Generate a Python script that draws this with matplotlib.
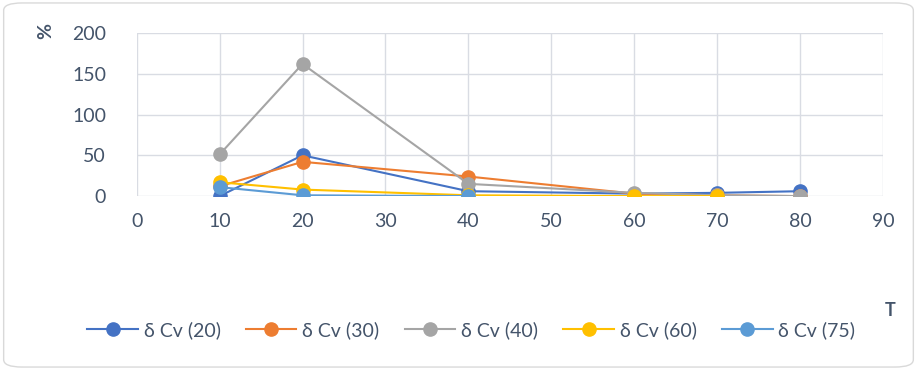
import matplotlib.pyplot as plt
from matplotlib.patches import FancyBboxPatch

plt.rcParams['font.family'] = ['Lato', 'DejaVu Sans']

# data
names = ['δ Cv (20)', 'δ Cv (30)', 'δ Cv (40)', 'δ Cv (60)', 'δ Cv (75)']
colors = ['#4472C4', '#ED7D31', '#A5A5A5', '#FFC000', '#5B9BD5']
x_cv20 = [10, 20, 40, 60, 70, 80]
y_cv20 = [0, 50, 6, 3, 4, 6]
x_cv30 = [10, 20, 40, 60, 70, 80]
y_cv30 = [12, 42, 24, 3, 1, 0]
x_cv40 = [10, 20, 40, 60, 70, 80]
y_cv40 = [51, 162, 15, 4, 1, 0]
x_cv60 = [10, 20, 40, 60, 70]
y_cv60 = [17, 8, 1, 0, 0]
x_cv75 = [10, 20, 40]
y_cv75 = [11, 1, 0]

xs = [x_cv20, x_cv30, x_cv40, x_cv60, x_cv75]
ys = [y_cv20, y_cv30, y_cv40, y_cv60, y_cv75]

txt = '#44546A'
fig = plt.figure(figsize=(9.17, 3.70), dpi=100)
ax = fig.add_axes([0.149, 0.470, 0.814, 0.441])

for x, y, c, n in zip(xs, ys, colors, names):
    ax.plot(x, y, '-o', color=c, lw=1.5, ms=9.5, label=n)

ax.set_xlim(0, 90)
ax.set_ylim(0, 200)
ax.set_xticks(range(0, 91, 10))
ax.set_yticks(range(0, 201, 50))
ax.grid(True, color='#D9DCE3', lw=1)
ax.set_axisbelow(True)
for s in ax.spines.values():
    s.set_visible(False)
ax.tick_params(length=0, labelsize=14, labelcolor=txt, pad=12)
ax.tick_params(axis='y', pad=22)

fig.text(0.050, 0.915, '%', rotation=90, fontsize=14, fontweight='bold',
         color=txt, ha='center', va='center')
fig.text(0.971, 0.160, 'T', fontsize=13, fontweight='bold', color=txt,
         ha='center', va='center')

fig.legend(loc='center', bbox_to_anchor=(0.514, 0.108), ncol=5, frameon=False,
           fontsize=14, labelcolor=txt, handlelength=2.6, handletextpad=0.3,
           columnspacing=1.3)

fig.patches.append(FancyBboxPatch((0.004, 0.008), 0.992, 0.984,
                                  boxstyle='round,pad=0,rounding_size=0.02',
                                  transform=fig.transFigure, fc='none',
                                  ec='#D9D9D9', lw=1))
fig.savefig('out.png', dpi=100)
